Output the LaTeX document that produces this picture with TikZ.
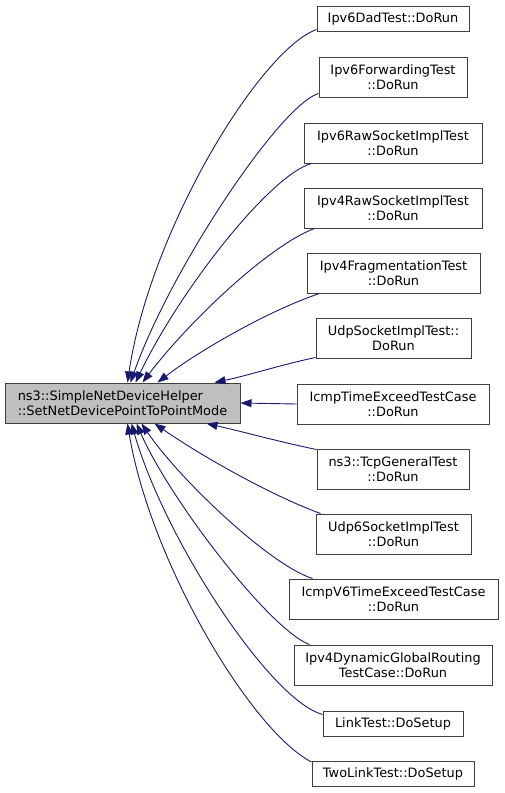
\documentclass[tikz,border=0pt]{standalone}
\usepackage{fontspec}
\setmainfont{DejaVu Sans}
\usetikzlibrary{arrows.meta}
\definecolor{edgeblue}{HTML}{191970}
\definecolor{boxgray}{HTML}{BFBFBF}
\definecolor{boxline}{HTML}{404040}
\tikzset{
  fn/.style={draw=boxline, line width=1pt, fill=white, inner sep=0pt, align=center,
    font=\fontsize{12.9}{14.8}\selectfont, text=black},
  mainfn/.style={fn, fill=boxgray, align=left},
  edge/.style={draw=edgeblue, line width=0.9pt, -{Triangle[length=11pt,width=8pt]}},
}
\begin{document}
\begin{tikzpicture}[x=1pt,y=-1pt]
\useasboundingbox (0,0) rectangle (504,793);
\node[mainfn, minimum width=235, minimum height=40] (main) at (122.5,403) {ns3::SimpleNetDeviceHelper\\::SetNetDevicePointToPointMode};
\node[fn, minimum width=152, minimum height=25] (dad) at (393,18.5) {Ipv6DadTest::DoRun};
\node[fn, minimum width=148, minimum height=40] (fwd) at (393,77) {Ipv6ForwardingTest\\::DoRun};
\node[fn, minimum width=178, minimum height=40] (v6raw) at (393,143) {Ipv6RawSocketImplTest\\::DoRun};
\node[fn, minimum width=178, minimum height=40] (v4raw) at (393,208) {Ipv4RawSocketImplTest\\::DoRun};
\node[fn, minimum width=173, minimum height=40] (frag) at (393.5,273) {Ipv4FragmentationTest\\::DoRun};
\node[fn, minimum width=155, minimum height=40] (udp) at (393.5,338) {UdpSocketImplTest::\\DoRun};
\node[fn, minimum width=192, minimum height=40] (icmp) at (393,404) {IcmpTimeExceedTestCase\\::DoRun};
\node[fn, minimum width=152, minimum height=40] (tcp) at (393,469) {ns3::TcpGeneralTest\\::DoRun};
\node[fn, minimum width=155, minimum height=40] (udp6) at (393.5,534) {Udp6SocketImplTest\\::DoRun};
\node[fn, minimum width=209, minimum height=40] (icmpv6) at (393.5,599) {IcmpV6TimeExceedTestCase\\::DoRun};
\node[fn, minimum width=198, minimum height=40] (dyn) at (393,665) {Ipv4DynamicGlobalRouting\\TestCase::DoRun};
\node[fn, minimum width=140, minimum height=25] (link) at (393,723.5) {LinkTest::DoSetup};
\node[fn, minimum width=162, minimum height=25] (twolink) at (393,774) {TwoLinkTest::DoSetup};

% callers above
\draw[edge] ([yshift=2]dad.south west) .. controls (260,50) and (150,230) .. ([xshift=123]main.north west);
\draw[edge] ([yshift=4]fwd.south west) .. controls (280,105) and (170,270) .. ([xshift=126]main.north west);
\draw[edge] ([xshift=8]v6raw.south west) .. controls (270,175) and (180,290) .. ([xshift=131]main.north west);
\draw[edge] ([xshift=11]v4raw.south west) .. controls (270,245) and (190,320) .. ([xshift=138]main.north west);
\draw[edge] ([xshift=13]frag.south west) .. controls (270,310) and (200,350) .. ([xshift=153]main.north west);
\draw[edge] ([yshift=1]udp.south west) .. controls (280,365) and (250,375) .. ([xshift=210]main.north west);
% same level
\draw[edge] (icmp.west) -- (main.east);
% callers below
\draw[edge] ([yshift=-1]tcp.north west) .. controls (280,442) and (240,431) .. ([xshift=202]main.south west);
\draw[edge] ([xshift=5]udp6.north west) .. controls (270,495) and (200,455) .. ([xshift=150]main.south west);
\draw[edge] ([xshift=24]icmpv6.north west) .. controls (270,565) and (180,480) .. ([xshift=137]main.south west);
\draw[edge] ([xshift=16]dyn.north west) .. controls (270,630) and (170,500) .. ([xshift=132]main.south west);
\draw[edge] ([yshift=-4]link.north west) .. controls (270,700) and (165,540) .. ([xshift=127]main.south west);
\draw[edge] ([yshift=-1]twolink.north west) .. controls (250,730) and (150,560) .. ([xshift=123]main.south west);
\end{tikzpicture}
\end{document}
